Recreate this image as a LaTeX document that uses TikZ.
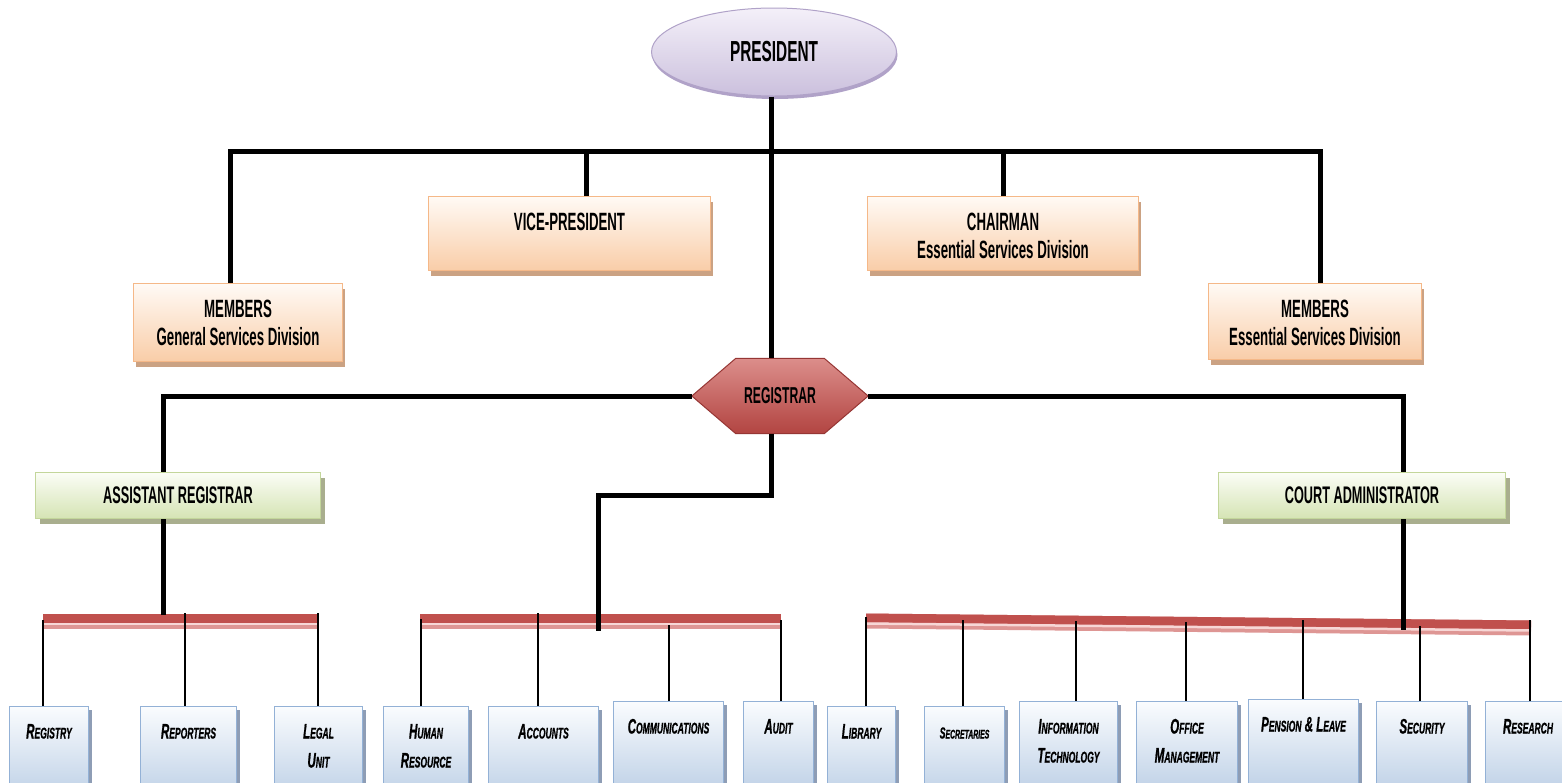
\documentclass[tikz,border=0pt]{standalone}
\usepackage{fontspec}
\setmainfont{Liberation Sans}[FakeStretch=0.53]
\newfontfamily\heavy{Liberation Sans}[FakeStretch=0.55, FakeBold=0.8]
\usetikzlibrary{shapes.geometric,shadows}
\definecolor{lavtop}{HTML}{F4F0F9}
\definecolor{lavbot}{HTML}{CBC0DD}
\definecolor{lavbd}{HTML}{B0A2C8}
\definecolor{orgtop}{HTML}{FFFAF5}
\definecolor{orgbot}{HTML}{F9CDA8}
\definecolor{orgbd}{HTML}{F5B888}
\definecolor{orgsh}{HTML}{CBA283}
\definecolor{grntop}{HTML}{FBFDF6}
\definecolor{grnbot}{HTML}{D5E4B4}
\definecolor{grnbd}{HTML}{C3D69B}
\definecolor{grnsh}{HTML}{A9AE8E}
\definecolor{blutop}{HTML}{FAFCFE}
\definecolor{blubot}{HTML}{B8CCE4}
\definecolor{blubd}{HTML}{93B1D6}
\definecolor{blush}{HTML}{8E9DB5}
\definecolor{regtop}{HTML}{DC8E8B}
\definecolor{regmid}{HTML}{C24F4C}
\definecolor{regbot}{HTML}{B24441}
\definecolor{regbd}{HTML}{963634}
\definecolor{cbardark}{HTML}{C0504D}
\definecolor{cbarbase}{HTML}{DE9694}
\definecolor{cbarlight}{HTML}{F7D7D6}
\newcommand\TB[4]{\parbox[c][#2pt][t]{#1pt}{\centering\fontsize{25}{28}\selectfont\bfseries\rule{0pt}{#3pt}#4}}
\newcommand\BB[2]{\parbox[c][100pt][t]{#1pt}{\centering\heavy\fontsize{21}{29}\selectfont\bfseries\itshape\rule{0pt}{32pt}#2}}
\newcommand\SC[2]{{\fontsize{21}{29}\selectfont #1}{\fontsize{15.5}{29}\selectfont #2}}
\newcommand\SCs[2]{{\fontsize{16}{29}\selectfont #1}{\fontsize{12.5}{29}\selectfont #2}}
\tikzset{
  obox/.style={draw=orgbd, line width=1pt, top color=orgtop, bottom color=orgbot, inner sep=0pt, anchor=north west,
    drop shadow={shadow xshift=2pt, shadow yshift=-5pt, fill=orgsh, opacity=1}},
  gbox/.style={draw=grnbd, line width=1pt, top color=grntop, bottom color=grnbot, inner sep=0pt, anchor=north west,
    drop shadow={shadow xshift=4pt, shadow yshift=-5pt, fill=grnsh, opacity=1}},
  bbox/.style={draw=blubd, line width=1pt, top color=blutop, bottom color=blubot, inner sep=0pt, anchor=north west,
    drop shadow={shadow xshift=3pt, shadow yshift=-3pt, fill=blush, opacity=1}},
  bk/.style={line width=5pt, black},
  thinline/.style={line width=2pt, black},
  barA/.style={line width=15pt, cbarbase},
  barB/.style={line width=9pt, cbardark},
  barC/.style={line width=2.5pt, cbarlight},
}
\begin{document}
\begin{tikzpicture}[x=1pt, y=-1pt]
\useasboundingbox (0,0) rectangle (1562,782);
\clip (0,0) rectangle (1562,782);
\fill[white] (0,0) rectangle (1562,782);

% top level
\node[ellipse, draw=lavbd, line width=1pt, top color=lavtop, bottom color=lavbot, minimum width=245pt, minimum height=88pt, inner sep=0pt,
  drop shadow={shadow xshift=1pt, shadow yshift=-3pt, fill=lavbd, opacity=1}] (pres) at (774,52) {\fontsize{29}{29}\selectfont\bfseries PRESIDENT};
\node[obox] (gsd) at (133,283) {\TB{209}{78}{34}{MEMBERS\\General Services Division}};
\node[obox] (vp) at (428,196) {\TB{282}{74}{34}{VICE-PRESIDENT}};
\node[obox] (ch) at (867,196) {\TB{271}{74}{34}{CHAIRMAN\\Essential Services Division}};
\node[obox] (esd) at (1208,283) {\TB{213}{76}{34}{MEMBERS\\Essential Services Division}};

% registrar
\node[minimum width=176pt, minimum height=75pt, inner sep=0pt] (reg) at (780,396) {};
\shadedraw[top color=regtop, middle color=regmid, bottom color=regbot, draw=regbd, line width=1pt]
  (reg.west) -- ([xshift=44pt]reg.north west) -- ([xshift=-44pt]reg.north east) -- (reg.east)
  -- ([xshift=-44pt]reg.south east) -- ([xshift=44pt]reg.south west) -- cycle;
\node (regtxt) at (reg.center) {\fontsize{23}{23}\selectfont\bfseries REGISTRAR};

% second level
\node[gbox, minimum width=285pt, minimum height=46pt] (ar) at (35,472) {\fontsize{24}{24}\selectfont\bfseries ASSISTANT REGISTRAR};
\node[gbox, minimum width=287pt, minimum height=46pt] (ca) at (1218,472) {\fontsize{24}{24}\selectfont\bfseries COURT ADMINISTRATOR};

% bottom boxes
\node[bbox] (registry) at (9,706) {\BB{79}{\SC{R}{EGISTRY}}};
\node[bbox] (reporters) at (140,706) {\BB{96}{\SC{R}{EPORTERS}}};
\node[bbox] (legal) at (274,706) {\BB{88}{\SC{L}{EGAL}\\\SC{U}{NIT}}};
\node[bbox] (hr) at (383,706) {\BB{85}{\SC{H}{UMAN}\\\SC{R}{ESOURCE}}};
\node[bbox] (acc) at (488,706) {\BB{110}{\SC{A}{CCOUNTS}}};
\node[bbox] (comm) at (613,701) {\BB{110}{\SC{C}{OMMUNICATIONS}}};
\node[bbox] (audit) at (743,701) {\BB{70}{\SC{A}{UDIT}}};
\node[bbox] (lib) at (827,706) {\BB{68}{\SC{L}{IBRARY}}};
\node[bbox] (sec) at (924,706) {\BB{80}{\SCs{S}{ECRETARIES}}};
\node[bbox] (it) at (1019,701) {\BB{98}{\SC{I}{NFORMATION}\\\SC{T}{ECHNOLOGY}}};
\node[bbox] (off) at (1136,701) {\BB{101}{\SC{O}{FFICE}\\\SC{M}{ANAGEMENT}}};
\node[bbox] (pen) at (1248,699) {\BB{110}{\SC{P}{ENSION} \SC{\&}{} \SC{L}{EAVE}}};
\node[bbox] (secu) at (1376,701) {\BB{91}{\SC{S}{ECURITY}}};
\node[bbox] (res) at (1485,701) {\BB{85}{\SC{R}{ESEARCH}}};

% red bars
\coordinate (b1a) at (43,621.5); \coordinate (b1b) at (319,621.5);
\coordinate (b2a) at (420,621.5); \coordinate (b2b) at (781,621.5);
\coordinate (b3a) at (866,621); \coordinate (b3b) at (1531,628);
\foreach \p/\q in {b1a/b1b, b2a/b2b, b3a/b3b}{
  \draw[barA] (\p) -- (\q);
  \draw[barB] ([yshift=3pt]\p) -- ([yshift=3pt]\q);
  \draw[barC] ([yshift=-2.5pt]\p) -- ([yshift=-2.5pt]\q);
}

% black connectors
\coordinate (hb) at (772,151);
\draw[bk] ([xshift=-3pt]pres.south) -- ([xshift=-3pt]pres.south |- reg.north);
\draw[bk] ([xshift=-7.5pt]gsd.north) -- ([xshift=-7.5pt]gsd.north |- hb) -- ([xshift=5.5pt]esd.north |- hb) -- ([xshift=5.5pt]esd.north);
\draw[bk] ([xshift=17pt]vp.north) -- ([xshift=17pt]vp.north |- hb);
\draw[bk] (ch.north) -- (ch.north |- hb);
\draw[bk] (reg.west) -| ([xshift=-14.5pt]ar.north);
\draw[bk] (reg.east) -| ([xshift=41.5pt]ca.north);
\coordinate (mt) at (598,495); \coordinate (me) at (598,631);
\draw[bk] ([xshift=-9pt]reg.south) |- (mt) -- (me);
\coordinate (arb) at (163,615);
\draw[bk] ([xshift=-14.5pt]ar.south) -- ([xshift=-14.5pt]ar.south |- arb);
\coordinate (cab) at (1403,630);
\draw[bk] ([xshift=41.5pt]ca.south) -- ([xshift=41.5pt]ca.south |- cab);

% drops
\foreach \n/\x/\y in {registry/43/620, reporters/185/613, legal/318/613, hr/421/619, acc/538/613, comm/669/625, audit/781/620,
  lib/866/617, sec/963/620, it/1076/621, off/1186/622, pen/1303/620, secu/1420/626, res/1530/620}{
  \coordinate (d\n) at (\x,\y);
  \draw[thinline] (d\n) -- (\n.north -| d\n);
}
\end{tikzpicture}
\end{document}
